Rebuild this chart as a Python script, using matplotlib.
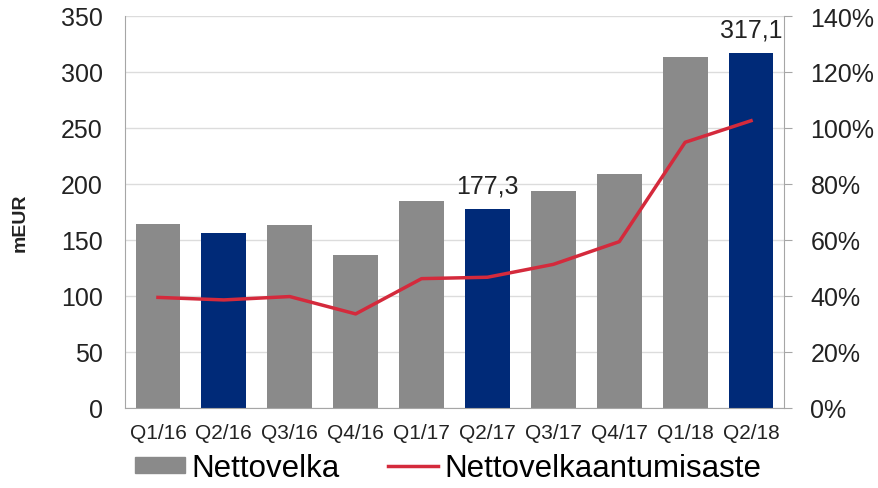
import numpy as np
import matplotlib
matplotlib.use("Agg")
import matplotlib.pyplot as plt
from matplotlib.patches import Patch
from matplotlib.lines import Line2D
from matplotlib.ticker import FuncFormatter

plt.rcParams['font.family'] = ['Liberation Sans', 'DejaVu Sans']

quarters = ["Q1/16", "Q2/16", "Q3/16", "Q4/16", "Q1/17", "Q2/17", "Q3/17", "Q4/17", "Q1/18", "Q2/18"]
nettovelka = [164, 156, 163, 137, 185, 177.3, 194, 208.5, 313, 317.1]
gearing = [39.5, 38.6, 39.8, 33.6, 46.2, 46.7, 51.3, 59.4, 94.9, 102.6]
highlight = ["Q2/16", "Q2/17", "Q2/18"]
labels = {"Q2/17": "177,3", "Q2/18": "317,1"}

gray = "#8A8A8A"
navy = "#002A78"
red = "#D42A3C"
txt = "#222222"
axcol = "#A6A6A6"

fig = plt.figure(figsize=(8.79, 4.89), dpi=100)
ax = fig.add_axes([125/879, 1 - 409/489, (784-125)/879, (409-17)/489])
x = np.arange(len(quarters))
colors = [navy if q in highlight else gray for q in quarters]
ax.bar(x, nettovelka, width=0.68, color=colors, zorder=2)
ax.set_xlim(-0.5, len(quarters) - 0.5)
ax.set_ylim(0, 350)
ax.set_yticks(range(0, 351, 50))
ax.grid(axis="y", color="#DCDCDC", linewidth=1, zorder=0)
ax.set_axisbelow(True)
for q, t in labels.items():
    i = quarters.index(q)
    ax.annotate(t, (x[i], nettovelka[i]), xytext=(0, 12), textcoords="offset points",
                ha="center", va="baseline", fontsize=18, color=txt)

ax.set_xticks(x)
ax.set_xticklabels(quarters, fontsize=15, color=txt)
ax.tick_params(axis="x", length=0, pad=11)
ax.tick_params(axis="y", length=0, labelsize=18, colors=txt, pad=16)
ax.set_ylabel("mEUR", fontsize=14, fontweight="bold", color=txt)
ax.yaxis.set_label_coords(-0.147, 0.474)
for s in ["top", "right"]:
    ax.spines[s].set_visible(False)
for s in ["left", "bottom"]:
    ax.spines[s].set_color(axcol)

ax2 = ax.twinx()
ax2.plot(x, gearing, color=red, linewidth=2.5, zorder=3)
ax2.set_ylim(0, 140)
ax2.set_yticks(range(0, 141, 20))
ax2.yaxis.set_major_formatter(FuncFormatter(lambda v, p: "%d%%" % v))
ax2.tick_params(axis="y", length=6, direction="out", color=axcol, labelsize=18,
                labelcolor=txt, pad=13)
for s in ["top", "left", "bottom"]:
    ax2.spines[s].set_visible(False)
ax2.spines["right"].set_color(axcol)

handles = [Patch(color=gray), Line2D([0], [0], color=red, linewidth=2.5)]
fig.legend(handles, ["Nettovelka", "Nettovelkaantumisaste"], loc="center",
           bbox_to_anchor=(448/879, 1 - 469/489), ncol=2, frameon=False,
           fontsize=22.5, handlelength=1.6, handleheight=0.42, handletextpad=0.2,
           columnspacing=1.55, borderpad=0)

fig.savefig("out.png", dpi=100)
